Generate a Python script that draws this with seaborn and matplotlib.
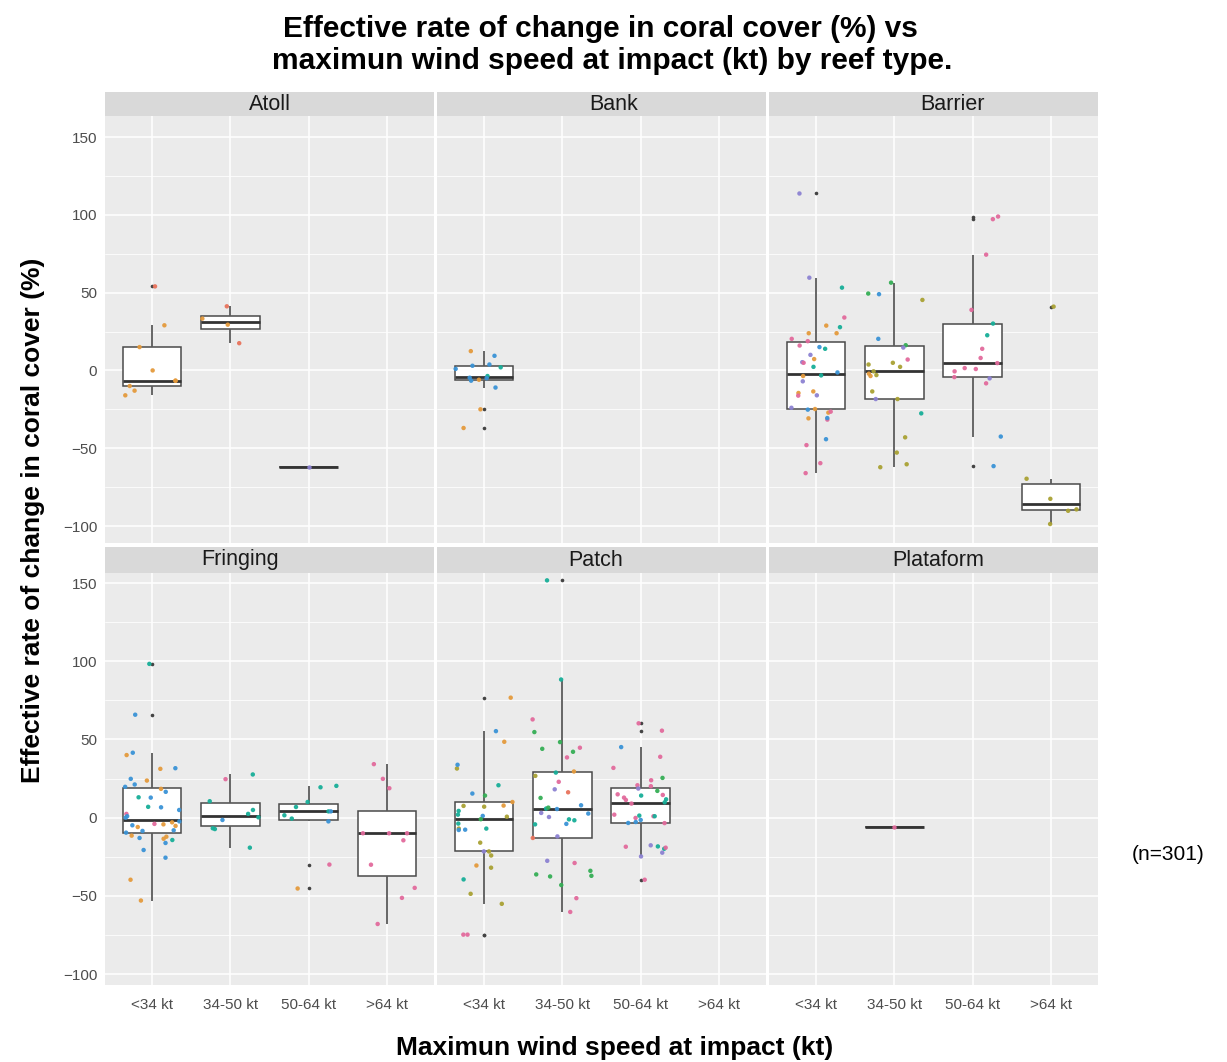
import numpy as np
import pandas as pd
import matplotlib
matplotlib.use("Agg")
import matplotlib.pyplot as plt
from matplotlib.ticker import MultipleLocator
import seaborn as sns

sns.set_theme(style="white")
plt.rcParams['font.family'] = ['Liberation Sans', 'DejaVu Sans']

# ---------------- data ----------------
reef_types = ["Atoll", "Bank", "Barrier", "Fringing", "Patch", "Plataform"]
wind_cats = ["<34 kt", "34-50 kt", "50-64 kt", ">64 kt"]
y_ticks = [-100, -50, 0, 50, 100, 150]
y_tick_labels = ["\u2212100", "\u221250", "0", "50", "100", "150"]

# one letter per point = colour group of the jittered point
atoll_lt34 = [54, 29, 15, 0, -6.6, -6.6, -10, -13, -16]
atoll_lt34_g = "ROOOOOOOO"
atoll_34_50 = [41.2, 33.3, 29.4, 17.5]
atoll_34_50_g = "ROOR"
atoll_50_64 = [-62.2]
atoll_50_64_g = "P"

bank_lt34 = [12.4, 9.4, 3.8, 1, -3.6, -4.7, -6, -6.6, -11, -25, -37, -5, 2, 3]
bank_lt34_g = "OBBBTBOBBOOBTB"

barrier_lt34 = [113.7, 59.6, 53.2, 34, 28.8, 27.8, 23.9, 23.9, 20.3, 13.9, 15, 18.8, 16,
                10, 7.3, 5.3, 4.9, 2.3, -1.3, -3.2, -3.6, -7, -13.5, -14.5, -16.2, -16,
                -24, -24.8, -25.2, -27.1, -26.5, -31.6, -30.6, -30.8, -44.2, -48, -59.6, -66]
barrier_lt34_g = "PPTKOTOOKTBKKPOPKTBTOPOOKPPOBOKKBOBKKK"
barrier_34_50 = [56.4, 49.4, 49, 45.3, 20.3, 16.2, 14.7, 7, 4.9, 2.3, 3.8, -2.1, -3, -0.6,
                 -3.6, -13.5, -18.4, -18.4, -27.6, -43, -52.8, -60.3, -62.2]
barrier_34_50_g = "GGBYBGPKYYYOYYOYYPTYYYY"
barrier_50_64 = [98.9, 97.2, 74.4, 38.9, 30.1, 22.6, 13.9, 4.7, 8, 1.5, 0.9, -0.6, -4.3,
                 -8.3, -5.1, -42.5, -61.5]
barrier_50_64_g = "KKKKTTKKKKKKKKPBB"
barrier_gt64 = [41, -69.6, -82.5, -89.3, -90.2, -98.7]
barrier_gt64_g = "YYYYYY"

fringing_lt34 = [98.3, 65.8, 41.5, 40, 31.6, 31.2, 24.8, 23.7, 19.7, 21.2, 16.5, 18.4, 12.8,
                 13, 6.6, 4.9, 6.9, 2.4, 0, 0.9, -2.4, -4, -3, -4.9, -6, -4.3, -5.3, -8.5,
                 -9.6, -8.1, -13, -12.2, -11.5, -13.5, -14.3, -16.2, -20.7, -25.6, -39.7, -53]
fringing_lt34_g = "TBBOBOBOBBBOBTBBTKBBBKOBOOOBBBBOOOTBBBOO"
fringing_34_50 = [24.6, 27.6, 10.5, 4.9, 2.4, 0.2, -1.5, -6.8, -7.3, -19.2]
fringing_34_50_g = "KTTTTTBTTT"
fringing_50_64 = [20.3, 19.4, 10, 6.8, 4, 4, 1.5, -0.6, -2.4, -30, -45.3]
fringing_50_64_g = "TTTTTBTTBKO"
fringing_gt64 = [34.2, 24.8, 18.8, -10, -10, -10, -14.5, -30.1, -44.9, -51.3, -68]
fringing_gt64_g = "KKKKKKKKKKK"

patch_lt34 = [76.7, 55.3, 48.5, 31.4, 33.8, 20.7, 15.4, 14.1, 7.5, 10, 7, 7.7, 4.3, 1.1, 1.9,
              0.6, -1, -3.8, -7, -7, -7.9, -7.7, -16, -21.6, -21.6, -24.2, -30.6, -32, -39.5,
              -48.7, -55.1, -74.8, -74.8]
patch_lt34_g = "OBOYBTBGYOYOTBTYGTYTBBYPYYOYTYYKK"
patch_34_50 = [151.7, 88.3, 62.8, 54.7, 48.3, 44, 42.1, 44.7, 38.5, 29.5, 28.8, 26.7, 22.9,
               18.1, 16.2, 12.6, 5.8, 7.9, 6.4, 5.5, 2.6, 0.4, 3, -1.7, -4, -1.1, -4.3, -12,
               -13, -27.6, -29, -36.3, -37.6, -37.2, -34, -43.1, -51.5, -60.3]
patch_34_50_g = "TTKGGGGKKOTYKPRGTBGBBPPTBTTPRPKGGGGGKK"
patch_50_64 = [60.3, 55.6, 45.1, 38.9, 31.8, 25.4, 23.9, 20.7, 20.1, 18.6, 17.1, 14.9, 14.1,
               14.5, 11.7, 12.8, 11.3, 9.8, 9, 1.9, 0.9, -0.2, 0.9, 1.3, -1.5, -2.8, -3.4,
               -3.5, -17.7, -18.4, -19.9, -18.6, -19.2, -22.4, -24.8, -39.7]
patch_50_64_g = "KKBKKGKKKPGKTKTKKTKKKKTTBBBKPTTKKPPK"

plataform_34_50 = [-6]
plataform_34_50_g = "K"

group_colors = {"O": "#E49A3C", "Y": "#A9A133", "G": "#35AE55", "T": "#17AE98",
                "B": "#3A93D6", "P": "#8C82D2", "K": "#E26A9C", "R": "#E8735C"}

records = [
    ("Atoll", "<34 kt", atoll_lt34, atoll_lt34_g),
    ("Atoll", "34-50 kt", atoll_34_50, atoll_34_50_g),
    ("Atoll", "50-64 kt", atoll_50_64, atoll_50_64_g),
    ("Bank", "<34 kt", bank_lt34, bank_lt34_g),
    ("Barrier", "<34 kt", barrier_lt34, barrier_lt34_g),
    ("Barrier", "34-50 kt", barrier_34_50, barrier_34_50_g),
    ("Barrier", "50-64 kt", barrier_50_64, barrier_50_64_g),
    ("Barrier", ">64 kt", barrier_gt64, barrier_gt64_g),
    ("Fringing", "<34 kt", fringing_lt34, fringing_lt34_g),
    ("Fringing", "34-50 kt", fringing_34_50, fringing_34_50_g),
    ("Fringing", "50-64 kt", fringing_50_64, fringing_50_64_g),
    ("Fringing", ">64 kt", fringing_gt64, fringing_gt64_g),
    ("Patch", "<34 kt", patch_lt34, patch_lt34_g),
    ("Patch", "34-50 kt", patch_34_50, patch_34_50_g),
    ("Patch", "50-64 kt", patch_50_64, patch_50_64_g),
    ("Plataform", "34-50 kt", plataform_34_50, plataform_34_50_g),
]
rows = []
for reef, wind, vals, grps in records:
    for v, g in zip(vals, grps):
        rows.append({"reef": reef, "wind": wind, "value": v, "grp": g})
df = pd.DataFrame(rows)

# ---------------- layout ----------------
W, H = 1227, 1062
fig = plt.figure(figsize=(W / 100, H / 100), dpi=100)
fig.patch.set_facecolor("white")

col_x = [105, 437, 769]
col_w = 329
row_spec = [(116, 543, 92, (-110.9, 163.5)), (573, 985, 547, (-107.0, 156.4))]
strip_text_x = {"Atoll": 270, "Bank": 614, "Barrier": 952,
                "Fringing": 240, "Patch": 596, "Plataform": 938}

np.random.seed(3)
for i, reef in enumerate(reef_types):
    r, c = divmod(i, 3)
    top, bot, strip_top, ylim = row_spec[r]
    ax = fig.add_axes([col_x[c] / W, 1 - bot / H, col_w / W, (bot - top) / H])
    ax.set_facecolor("#EBEBEB")
    sub = df[df.reef == reef]
    sns.boxplot(data=sub, x="wind", y="value", order=wind_cats, ax=ax,
                width=0.75, showcaps=False, linewidth=1.1, linecolor="#4A4A4A",
                boxprops=dict(facecolor="white", edgecolor="#4A4A4A", zorder=2),
                medianprops=dict(color="#333333", linewidth=2.0),
                whiskerprops=dict(color="#5A5A5A", linewidth=1.3),
                flierprops=dict(marker="o", markersize=1.6, markerfacecolor="#444444",
                                markeredgecolor="#444444"))
    sns.stripplot(data=sub, x="wind", y="value", order=wind_cats, hue="grp",
                  palette=group_colors, jitter=0.38, size=3.2, linewidth=0,
                  alpha=0.95, legend=False, ax=ax, zorder=3)
    ax.set_xlim(-0.6, 3.6)
    ax.set_ylim(*ylim)
    ax.set_yticks(y_ticks)
    ax.set_yticklabels(y_tick_labels)
    ax.yaxis.set_minor_locator(MultipleLocator(25))
    ax.set_axisbelow(True)
    ax.grid(which="major", color="white", linewidth=1.1)
    ax.grid(which="minor", axis="y", color="white", linewidth=0.55)
    for s in ax.spines.values():
        s.set_visible(False)
    ax.set_xlabel("")
    ax.set_ylabel("")
    ax.tick_params(axis="y", which="minor", length=0)
    ax.tick_params(axis="both", which="major", length=3.5, width=0.8, color="#333333",
                   labelcolor="#4D4D4D", labelsize=11, pad=2)
    if c != 0:
        ax.tick_params(axis="y", which="major", length=0, labelleft=False)
    if r == 0:
        ax.tick_params(axis="x", which="major", length=0, labelbottom=False)
    else:
        ax.set_xticks(range(len(wind_cats)))
        ax.set_xticklabels(wind_cats)
        ax.tick_params(axis="x", labelsize=11, pad=6)

    # facet strip
    sax = fig.add_axes([col_x[c] / W, 1 - top / H, col_w / W, (top - strip_top) / H])
    sax.set_facecolor("#D9D9D9")
    sax.set_xticks([])
    sax.set_yticks([])
    for s in sax.spines.values():
        s.set_visible(False)
    fig.text(strip_text_x[reef] / W, 1 - (top + strip_top) / 2 / H, reef,
             ha="center", va="center", fontsize=15.5, color="#1A1A1A")

fig.text(600 / W, 1 - 29 / H, "Effective rate of change in coral cover (%) vs",
         ha="center", va="center", fontsize=21.5, fontweight="bold", color="black")
fig.text(612 / W, 1 - 61 / H, "maximun wind speed at impact (kt) by reef type.",
         ha="center", va="center", fontsize=21.5, fontweight="bold", color="black")
fig.text(33 / W, 1 - 520 / H, "Effective rate of change in coral cover (%)",
         ha="center", va="center", rotation=90, fontsize=19, fontweight="bold",
         color="black")
fig.text(615 / W, 1 - 1060 / H, "Maximun wind speed at impact (kt)",
         ha="center", va="bottom", fontsize=19, fontweight="bold", color="black")
fig.text(1168 / W, 1 - 855 / H, "(n=301)", ha="center", va="center",
         fontsize=15, color="black")

fig.savefig("out.png", dpi=100, facecolor="white")
